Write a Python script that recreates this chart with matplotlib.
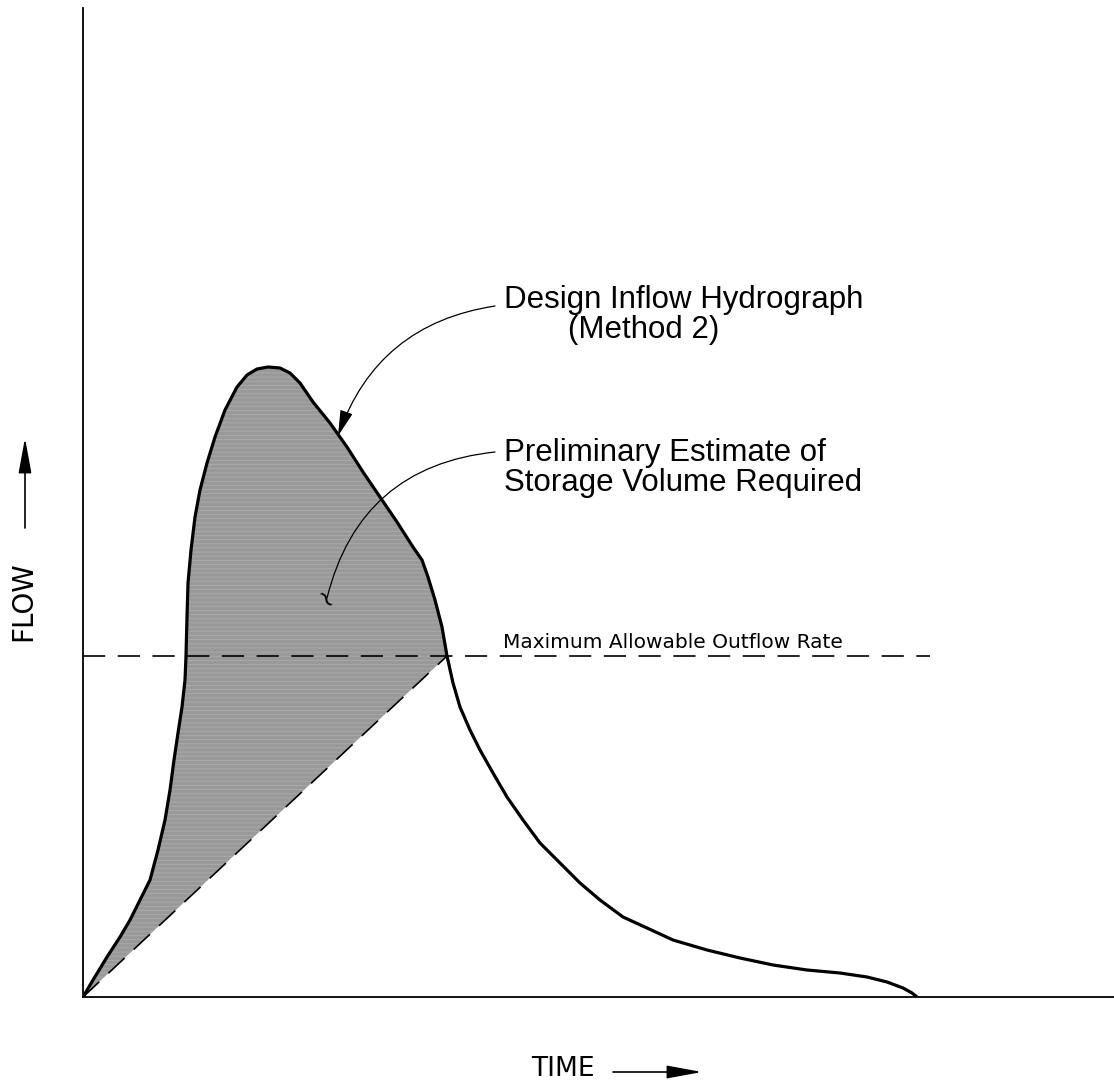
import numpy as np
import matplotlib
matplotlib.use("Agg")
import matplotlib.pyplot as plt

plt.rcParams['lines.scale_dashes'] = False
plt.rcParams['hatch.linewidth'] = 0.6
plt.rcParams['hatch.color'] = '#ababab'

# inflow hydrograph (arbitrary time / flow units)
time = np.array([0, 10, 24, 37, 47, 57, 67, 75, 82, 87, 91, 95, 99, 102, 103,
                 104, 105, 108, 112, 117, 124, 132, 142, 154, 164, 174, 185, 197,
                 207, 217, 230, 247, 264, 280, 297, 314, 330, 339, 345, 352, 359,
                 364, 370, 377, 387, 397, 410, 424, 440, 457, 477, 497, 517, 540,
                 564, 590, 624, 657, 690, 724, 757, 784, 804, 820, 829, 834])
flow = np.array([0, 17, 40, 60, 77, 97, 117, 147, 177, 207, 237, 264, 290, 317, 341,
                 380, 414, 447, 480, 507, 534, 560, 587, 610, 622, 628, 630, 629,
                 624, 614, 595, 574, 550, 525, 500, 475, 450, 437, 420, 397, 370,
                 341, 314, 290, 267, 247, 224, 200, 177, 154, 134, 114, 97, 80,
                 69, 57, 47, 39, 32, 27, 24, 20, 15, 9, 4, 0])

q_allow = 341        # maximum allowable outflow rate
t_allow = 364        # time where the hydrograph falls back to it
t_line_end = 847

fig = plt.figure(figsize=(11.14, 10.89), dpi=100)
ax = fig.add_axes([83 / 1114, 92 / 1089, 1031 / 1114, 989 / 1089])
ax.set_xlim(0, 1031)
ax.set_ylim(0, 989)

# storage volume = hydrograph above the straight outflow rise
rise = time <= t_allow
outflow = np.interp(time[rise], [0, t_allow], [0, q_allow])
ax.fill_between(time[rise], outflow, flow[rise], facecolor='#999999',
                edgecolor='none', hatch='----', zorder=1)

ax.plot(time, flow, color='black', lw=2.3, solid_joinstyle='round',
        solid_capstyle='round', zorder=3)
ax.plot([0, t_allow], [0, q_allow], color='black', lw=1.2,
        linestyle=(0, (16, 9)), zorder=2)
ax.plot([0, t_line_end], [q_allow, q_allow], color='black', lw=1.2,
        linestyle=(0, (16, 9)), zorder=2)

ax.text(420, q_allow + 8, 'Maximum Allowable Outflow Rate', fontsize=14.5,
        family='DejaVu Sans', va='baseline', ha='left')

lab = dict(fontsize=22.5, family='Liberation Sans', va='center', ha='left')
ax.text(421, 697, 'Design Inflow Hydrograph', **lab)
ax.text(485, 667, '(Method 2)', **lab)
ax.text(421, 544, 'Preliminary Estimate of', **lab)
ax.text(421, 514, 'Storage Volume Required', **lab)

ax.annotate('', xy=(255, 561), xytext=(412, 691),
            arrowprops=dict(arrowstyle='-|>,head_length=0.8,head_width=0.2',
                            mutation_scale=20, color='black', lw=0.9,
                            shrinkA=0, shrinkB=0,
                            connectionstyle='arc3,rad=0.3'))
ax.annotate('', xy=(244, 399), xytext=(412, 545),
            arrowprops=dict(arrowstyle='-', color='black', lw=0.9,
                            shrinkA=0, shrinkB=0,
                            connectionstyle='arc3,rad=0.35'))
ax.text(240, 396, '~', fontsize=18, rotation=-55, ha='center', va='center')

for s in ['top', 'right']:
    ax.spines[s].set_visible(False)
for s in ['left', 'bottom']:
    ax.spines[s].set_linewidth(1.3)
ax.set_xticks([])
ax.set_yticks([])

# axis captions with arrows, outside the axes
fig.text(23 / 1114, 1 - 601 / 1089, 'FLOW', rotation=90, fontsize=20,
         family='DejaVu Sans', ha='center', va='center')
fig.text(563 / 1114, 1 - 1069 / 1089, 'TIME', fontsize=19,
         family='DejaVu Sans', ha='center', va='center')
arr = dict(arrowstyle='-|>,head_length=1.2,head_width=0.22', mutation_scale=18,
           color='black', lw=1.2, shrinkA=0, shrinkB=0)
ax.annotate('', xy=(25, 1089 - 438), xytext=(25, 1089 - 528),
            xycoords='figure pixels', textcoords='figure pixels',
            arrowprops=arr, annotation_clip=False)
ax.annotate('', xy=(702, 1089 - 1072), xytext=(613, 1089 - 1072),
            xycoords='figure pixels', textcoords='figure pixels',
            arrowprops=arr, annotation_clip=False)

fig.savefig('out.png', dpi=100, facecolor='white')
